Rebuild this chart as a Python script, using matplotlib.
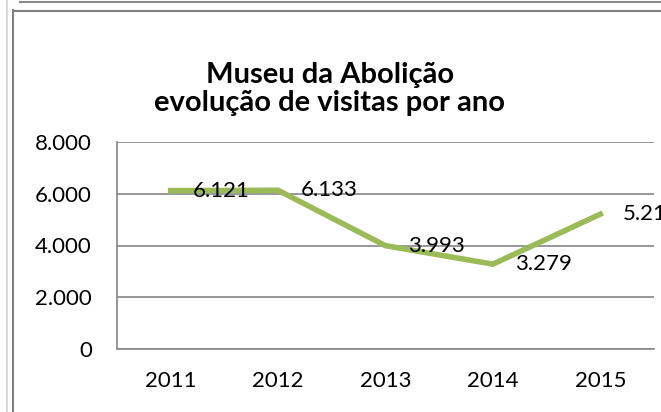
import matplotlib
matplotlib.use("Agg")
import matplotlib.pyplot as plt
from matplotlib.lines import Line2D

anos = ["2011", "2012", "2013", "2014", "2015"]
visitas = [6121, 6133, 3993, 3279, 5213]
rotulos = ["6.121", "6.133", "3.993", "3.279", "5.213"]
yticks = [0, 2000, 4000, 6000, 8000]
ytick_labels = ["0", "2.000", "4.000", "6.000", "8.000"]

plt.rcParams['font.family'] = ['Lato', 'DejaVu Sans']

W, H = 661, 412
fig = plt.figure(figsize=(W / 100, H / 100), dpi=100)

def px(x, y):
    return x / W, 1 - y / H

# molduras da captura
fig.add_artist(Line2D([7 / W, 7 / W], [0, 1], color="#d9d9d9", lw=1.5))
fig.add_artist(Line2D([20 / W, 1], [1 - 1.5 / H] * 2, color="#8c8c8c", lw=1.5))
fig.add_artist(Line2D([13.5 / W, 13.5 / W], [0, 1 - 10 / H], color="#808080", lw=1.5))
fig.add_artist(Line2D([13 / W, 1], [1 - 10.5 / H] * 2, color="#808080", lw=1.5))

l, b = px(117, 349)
r, t = px(654, 142)
ax = fig.add_axes([l, b, r - l, t - b])

x = list(range(len(anos)))
ax.plot(x, visitas, color="#9bbb59", lw=4, solid_joinstyle="miter", zorder=3)
for xi, v, lab in zip(x, visitas, rotulos):
    ax.annotate(lab, (xi, v), xytext=(16, 0), textcoords="offset points",
                ha="left", va="center", fontsize=16, color="black",
                annotation_clip=False, zorder=4)

ax.set_xlim(-0.5, len(anos) - 0.5)
ax.set_ylim(0, 8000)
ax.set_yticks(yticks)
ax.set_yticklabels(ytick_labels)
ax.set_xticks(x)
ax.set_xticklabels(anos)
ax.tick_params(axis="both", length=0, labelsize=16)
ax.tick_params(axis="y", pad=18)
ax.tick_params(axis="x", pad=16)
ax.grid(axis="y", color="#868686", lw=1.2)
ax.set_axisbelow(True)
for s in ["top", "right"]:
    ax.spines[s].set_visible(False)
for s in ["left", "bottom"]:
    ax.spines[s].set_color("#868686")
    ax.spines[s].set_linewidth(1.2)

fig.text(330 / W, 1 - 75 / H, "Museu da Abolição",
         ha="center", va="center", fontsize=21, fontweight="bold")
fig.text(330 / W, 1 - 103 / H, "evolução de visitas por ano",
         ha="center", va="center", fontsize=21, fontweight="bold")

fig.savefig("out.png", dpi=100)
